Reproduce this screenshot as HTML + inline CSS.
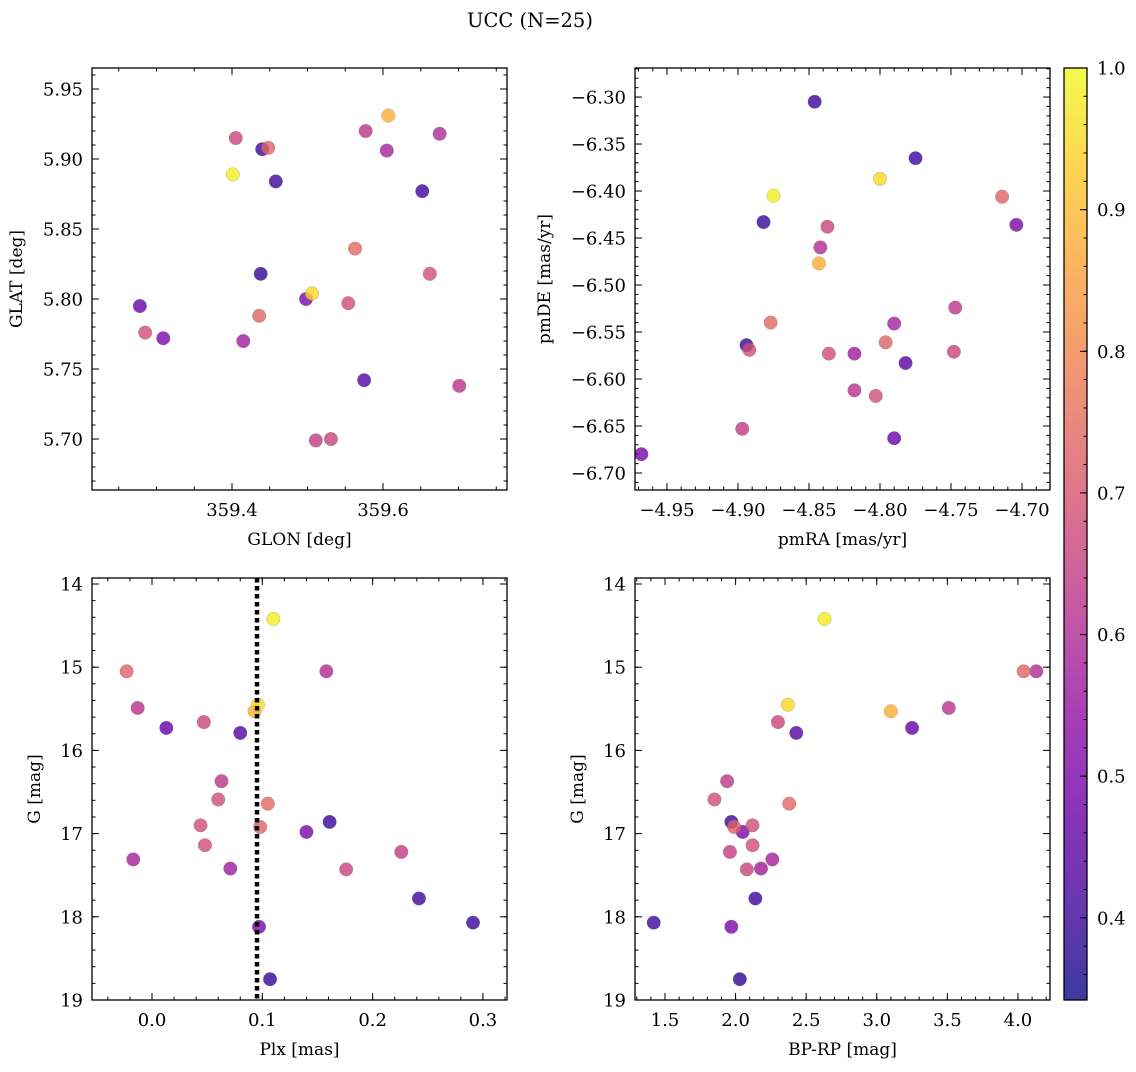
<!DOCTYPE html>
<html><head><meta charset="utf-8"><style>
body{margin:0;background:#fff}
svg text{font-family:"DejaVu Serif","Liberation Serif",serif;fill:#000}
</style></head><body>
<svg id="fig" width="1136" height="1067" xmlns="http://www.w3.org/2000/svg">
<text x="530" y="27" font-size="19.5" text-anchor="middle">UCC (N=25)</text>
</svg>
<script>
// star table (one entry per star)
const prob = [0.98,0.73,0.60,0.95,0.88,0.62,0.66,0.47,0.44,0.63,0.68,0.74,0.40,0.68,0.73,0.50,0.68,0.64,0.58,0.57,0.66,0.40,0.40,0.50,0.39];
const plx  = [0.110,-0.023,0.158,0.096,0.093,-0.013,0.047,0.013,0.080,0.063,0.060,0.105,0.161,0.044,0.098,0.140,0.048,0.226,-0.017,0.071,0.176,0.242,0.291,0.097,0.107];
const gmag = [14.42,15.05,15.05,15.45,15.53,15.49,15.66,15.73,15.79,16.37,16.59,16.64,16.86,16.90,16.92,16.98,17.14,17.22,17.31,17.42,17.43,17.78,18.07,18.12,18.75];
const bprp = [2.63,4.04,4.13,2.37,3.10,3.51,2.30,3.25,2.43,1.94,1.85,2.38,1.97,2.12,1.99,2.05,2.12,1.96,2.26,2.18,2.08,2.14,1.42,1.97,2.03];
const glon = [359.401,359.448,359.675,359.506,359.607,359.701,359.405,359.278,359.575,359.577,359.554,359.563,359.440,359.662,359.436,359.309,359.285,359.511,359.605,359.415,359.531,359.458,359.652,359.498,359.438];
const glat = [5.889,5.908,5.918,5.804,5.931,5.738,5.915,5.795,5.742,5.920,5.797,5.836,5.907,5.818,5.788,5.772,5.776,5.699,5.906,5.770,5.700,5.884,5.877,5.800,5.818];
const pmra = [-4.875,-4.714,-4.842,-4.800,-4.843,-4.818,-4.837,-4.790,-4.782,-4.747,-4.803,-4.877,-4.846,-4.892,-4.796,-4.704,-4.836,-4.897,-4.790,-4.818,-4.748,-4.775,-4.882,-4.968,-4.894];
const pmde = [-6.405,-6.406,-6.460,-6.387,-6.477,-6.612,-6.438,-6.663,-6.583,-6.524,-6.618,-6.540,-6.305,-6.569,-6.561,-6.436,-6.573,-6.653,-6.541,-6.573,-6.571,-6.365,-6.433,-6.680,-6.564];
const plxMean = [0.0952];
const cbTicks = [0.4,0.5,0.6,0.7,0.8,0.9,1.0];
const VMIN=0.342, VMAX=1.0;

const NS="http://www.w3.org/2000/svg";
const svg=document.getElementById('fig');
function mk(tag,attrs,parent){const e=document.createElementNS(NS,tag);for(const k in attrs)e.setAttribute(k,attrs[k]);(parent||svg).appendChild(e);return e;}
const stops=[[13,8,135],[65,4,157],[106,0,168],[143,13,164],[177,42,144],[204,71,120],[225,100,98],[242,132,75],[252,166,54],[252,206,37],[240,249,33]];
function plasma(t){t=Math.max(0,Math.min(1,t))*10;const i=Math.min(9,Math.floor(t)),f=t-i;const a=stops[i],b=stops[i+1];return `rgb(${a.map((v,k)=>Math.round(v+(b[k]-v)*f)).join(',')})`;}
function cmap(p){return plasma((p-VMIN)/(VMAX-VMIN));}
function fmt(v,d){let s=v.toFixed(d);return s.replace('-','\u2212');}

function panel(o){
  const g=mk('g',{});
  
  
  const X=v=>o.x0+(v-o.xmin)/(o.xmax-o.xmin)*(o.x1-o.x0);
  const Y=o.yinv? v=>o.y0+(v-o.ymin)/(o.ymax-o.ymin)*(o.y1-o.y0) : v=>o.y1-(v-o.ymin)/(o.ymax-o.ymin)*(o.y1-o.y0);
  const eps=1e-9;
  function ticks(min,max,step){const r=[];for(let v=Math.ceil(min/step-eps)*step;v<=max+eps;v+=step)r.push(+v.toFixed(6));return r;}
  const tg=mk('g',{stroke:'#000','stroke-width':1},g);
  
  
  ticks(o.xmin,o.xmax,o.xminor).forEach(v=>{const x=X(v);mk('line',{x1:x,x2:x,y1:o.y1,y2:o.y1-3.5},tg);mk('line',{x1:x,x2:x,y1:o.y0,y2:o.y0+3.5},tg);});
  ticks(o.ymin,o.ymax,o.yminor).forEach(v=>{const y=Y(v);mk('line',{x1:o.x0,x2:o.x0+3.5,y1:y,y2:y},tg);mk('line',{x1:o.x1,x2:o.x1-3.5,y1:y,y2:y},tg);});
  ticks(o.xmin,o.xmax,o.xmajor).forEach(v=>{const x=X(v);mk('line',{x1:x,x2:x,y1:o.y1,y2:o.y1-7},tg);mk('line',{x1:x,x2:x,y1:o.y0,y2:o.y0+7},tg);
    const t=mk('text',{x:x,y:o.y1+26,'font-size':18,'text-anchor':'middle'},g);t.textContent=fmt(v,o.xdec);
    });
  ticks(o.ymin,o.ymax,o.ymajor).forEach(v=>{const y=Y(v);mk('line',{x1:o.x0,x2:o.x0+7,y1:y,y2:y},tg);mk('line',{x1:o.x1,x2:o.x1-7,y1:y,y2:y},tg);
    const t=mk('text',{x:o.x0-9,y:y+6.5,'font-size':18,'text-anchor':'end'},g);t.textContent=fmt(v,o.ydec);
    });
  const xl=mk('text',{x:(o.x0+o.x1)/2,y:o.y1+55,'font-size':17,'text-anchor':'middle'},g);xl.textContent=o.xlabel;
  
  const yl=mk('text',{x:0,y:0,'font-size':17,'text-anchor':'middle',transform:`translate(${o.ylx},${(o.y0+o.y1)/2}) rotate(-90)`},g);yl.textContent=o.ylabel;
  
  const idx=prob.map((p,i)=>i).sort((a,b)=>prob[a]-prob[b]);
  idx.forEach(i=>{const c=mk('circle',{cx:X(o.xs[i]),cy:Y(o.ys[i]),r:6.8,fill:cmap(prob[i]),'fill-opacity':0.8,stroke:'#777','stroke-width':0.4,'stroke-opacity':0.6},g);
    });
  if(o.extra)o.extra(g,X,Y);
  const fr=mk('rect',{x:o.x0,y:o.y0,width:o.x1-o.x0,height:o.y1-o.y0,fill:'none',stroke:'#000','stroke-width':1.3},g);
  
}
panel({name:'glon-glat-panel',x0:92,x1:507,y0:68,y1:490,xmin:359.2146,xmax:359.7642,ymin:5.6636,ymax:5.965,
  xmajor:0.2,xminor:0.05,ymajor:0.05,yminor:0.01,xdec:1,ydec:2,xlabel:'GLON [deg]',ylabel:'GLAT [deg]',ylx:22,xs:glon,ys:glat});
panel({name:'pm-panel',x0:635,x1:1050,y0:68,y1:490,xmin:-4.9725,xmax:-4.6803,ymin:-6.7181,ymax:-6.2691,
  xmajor:0.05,xminor:0.01,ymajor:0.05,yminor:0.01,xdec:2,ydec:2,xlabel:'pmRA [mas/yr]',ylabel:'pmDE [mas/yr]',ylx:550,xs:pmra,ys:pmde});
panel({name:'plx-g-panel',x0:92,x1:507,y0:578,y1:1000,xmin:-0.0544,xmax:0.3218,ymin:13.928,ymax:19.0,yinv:true,
  xmajor:0.1,xminor:0.02,ymajor:1,yminor:0.2,xdec:1,ydec:0,xlabel:'Plx [mas]',ylabel:'G [mag]',ylx:40,xs:plx,ys:gmag,
  extra:(g,X,Y)=>{const l=mk('line',{x1:X(plxMean[0]),x2:X(plxMean[0]),y1:578,y2:1000,stroke:'#000','stroke-width':4.5,'stroke-dasharray':'4.5 3.5'},g);
    }});
panel({name:'cmd-panel',x0:635,x1:1050,y0:578,y1:1000,xmin:1.2875,xmax:4.227,ymin:13.928,ymax:19.0,yinv:true,
  xmajor:0.5,xminor:0.1,ymajor:1,yminor:0.2,xdec:1,ydec:0,xlabel:'BP-RP [mag]',ylabel:'G [mag]',ylx:583,xs:bprp,ys:gmag});

const cb=mk('g',{});


const defs=mk('defs',{},cb);
const lg=mk('linearGradient',{id:'cbg',x1:0,y1:1,x2:0,y2:0},defs);
for(let k=0;k<=20;k++){mk('stop',{offset:k/20,'stop-color':plasma(k/20),'stop-opacity':0.8},lg);}
const CX0=1064,CX1=1087,CY0=68,CY1=1000;
const CY=v=>CY1-(v-VMIN)/(VMAX-VMIN)*(CY1-CY0);
mk('rect',{x:CX0,y:CY0,width:CX1-CX0,height:CY1-CY0,fill:'url(#cbg)'},cb);
for(let v=0.36;v<=1.0001;v+=0.02){const y=CY(v);mk('line',{x1:CX1,x2:CX1-3.5,y1:y,y2:y,stroke:'#000'},cb);}
cbTicks.forEach(v=>{const y=CY(v);mk('line',{x1:CX1,x2:CX1-7,y1:y,y2:y,stroke:'#000'},cb);
  const t=mk('text',{x:CX1+10,y:y+6.5,'font-size':18},cb);t.textContent=v.toFixed(1);
  });
mk('rect',{x:CX0,y:CY0,width:CX1-CX0,height:CY1-CY0,fill:'none',stroke:'#000','stroke-width':1.3},cb);
</script>
</body></html>
